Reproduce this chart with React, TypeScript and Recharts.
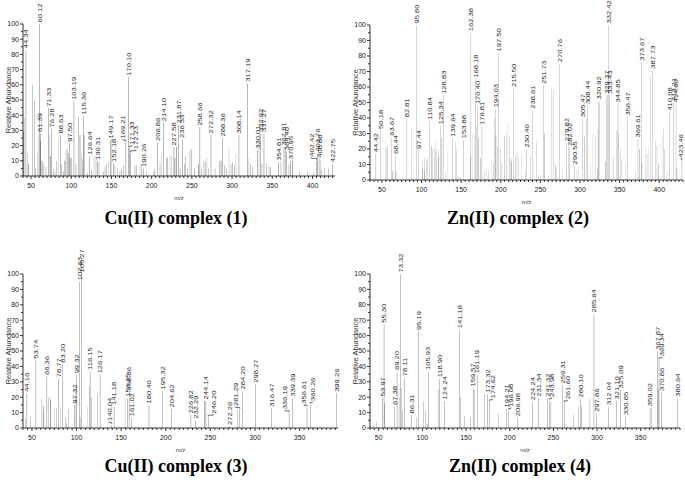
import React from 'react';
import { Bar, BarChart, LabelList, XAxis, YAxis } from 'recharts';

// [m/z, relative abundance, peak label]
type Peak = [number, number, string?];

// Cu(II) complex (1)
const cu1Labelled: Peak[] = [
  [43.7, 83, '44.34'], [60.3, 100, '60.12'], [61.39, 28, '61.39'], [71.4, 44.5, '71.33'],
  [75.9, 31, '76.28'], [86.8, 27, '88.63'], [97.5, 21.5, '97.50'], [103.4, 49, '103.19'],
  [115.2, 39.5, '115.36'], [122.5, 13, '126.64'], [132.9, 9.5, '130.31'], [148.5, 23.7, '149.17'],
  [152.3, 8.3, '152.18'], [168, 22, '169.21'], [171, 65, '170.10'], [172.3, 18, '171.33'],
  [174, 15, '172.23'], [189.8, 5, '190.26'], [207, 22, '206.86'], [214.4, 35, '214.10'],
  [227.7, 19, '227.58'], [233.2, 33.5, '231.87'], [238, 24, '236.33'], [260, 32, '258.66'],
  [273.8, 27, '272.32'], [288.4, 25, '288.36'], [308.6, 27, '308.14'], [319.6, 61, '317.19'],
  [331.9, 17, '330.01'], [335.6, 28, '332.92'], [339.7, 28, '337.27'], [357.6, 9, '354.81'],
  [364.6, 19, '362.81'], [368, 16, '364.40'], [372.9, 10, '370.95'], [405, 10, '402.42'],
  [406.5, 15, '403.76'], [409.4, 11, '408.88'], [425.1, 8, '422.75'],
];
const cu1Black: Peak[] = [
  [40.5, 29], [46.6, 8], [62, 23], [74.4, 13], [92.2, 10], [98.5, 12], [110.9, 27], [115.9, 27],
  [229, 12], [231, 19], [258, 8], [286.3, 10], [375, 10],
];
const cu1Grey: Peak[] = [
  [52, 60], [54, 50], [55.3, 5], [62.5, 10], [64.5, 10], [66, 8], [68.6, 6], [77.7, 5], [79.8, 3],
  [81.9, 10], [88, 8], [90.2, 3], [93.5, 18], [95, 17], [96.4, 15], [100.5, 12], [105.9, 8],
  [108.8, 39], [114.2, 11], [120, 2], [125.4, 4], [130.8, 13], [134.5, 9], [140, 3], [142, 6], [144, 8],
  [154.4, 7], [157.3, 5], [160.6, 3], [162.7, 5], [164.8, 7], [179.3, 7], [181.4, 7], [187.6, 8],
  [193.8, 3], [202, 3], [204, 5], [210.4, 8], [218.7, 12], [220, 12], [235.3, 5], [240.5, 8],
  [242.3, 13], [244.4, 5], [247.7, 17], [249.8, 18], [253.1, 5], [262.2, 5], [265.1, 10], [267.2, 9],
  [270.5, 5], [278.8, 5], [284.2, 10], [290.4, 7], [293.3, 5], [298.7, 8], [300.8, 9], [302.8, 7],
  [323.1, 8], [325.6, 6], [337.2, 8], [343, 8], [346, 6], [347.6, 6], [360.9, 9], [366.7, 19],
  [370.8, 8], [383.7, 3], [394, 3], [401, 2], [410.8, 4], [414.8, 5], [419.7, 5],
];
const cu1Light: Peak[] = [
  [41.5, 38], [45.5, 15], [57.8, 15], [58.8, 27], [72.8, 27], [84, 25], [113, 15], [128.3, 13],
  [146, 10], [150.3, 25], [185.5, 8], [212.5, 15], [222.8, 13], [224.9, 14], [268.8, 12], [296.2, 19],
  [304.9, 15], [321, 12], [333.5, 22], [408, 15],
];

// Zn(II) complex (2)
const zn2Labelled: Peak[] = [
  [42.4, 17, '44.42'], [47.9, 32, '50.18'], [62.6, 27.6, '63.67'], [67.7, 15.8, '68.44'],
  [81.6, 39.5, '82.81'], [94.2, 100, '95.80'], [96.3, 19, '97.44'], [109.8, 38, '110.84'],
  [123.7, 35, '125.34'], [127.9, 54.6, '128.83'], [139.2, 27, '139.64'], [153, 26, '153.88'],
  [162.4, 95, '162.38'], [167.8, 65, '168.18'], [170.8, 48, '170.40'], [176.3, 34.5, '176.81'],
  [193.1, 46, '194.03'], [197.3, 82, '197.50'], [216.2, 59, '215.50'], [232.2, 20, '230.40'],
  [240.6, 45, '238.61'], [254, 61, '251.73'], [273.9, 75, '270.76'], [282.7, 24, '279.82'],
  [287, 21, '282.02'], [293.2, 9, '290.55'], [303.7, 39.5, '305.47'], [309.6, 48, '308.44'],
  [323.5, 51, '320.92'], [333.2, 54.6, '329.37'], [336, 100, '332.42'], [337.4, 54.6, '333.43'],
  [348, 49, '344.85'], [360, 40.6, '356.47'], [373.2, 26.5, '369.61'], [377.4, 76, '373.67'],
  [392, 70.8, '387.73'], [413.2, 43.8, '410.08'], [418.2, 50, '413.21'], [421.2, 49, '414.60'],
  [428.7, 12, '423.46'],
];
const zn2Black: Peak[] = [
  [62.9, 6], [101.3, 7], [103.5, 6], [112.3, 22], [121.5, 15], [125.8, 27], [161.5, 15], [172, 27],
  [174.2, 14], [194, 29], [204.9, 28], [212.9, 14], [214, 12], [255.4, 30], [268.8, 10], [305.4, 28],
  [322.3, 7], [332, 12], [346.7, 32], [375.3, 20], [378.2, 11], [399.3, 10], [422.4, 8],
];
const zn2Grey: Peak[] = [
  [56.3, 21], [57.6, 22], [66.8, 5], [87.9, 33], [101.8, 13], [104, 14], [106, 13], [107.7, 15],
  [114.4, 20], [116.5, 20], [118.2, 24], [119.4, 18], [122, 20], [130, 5], [142.6, 24], [144.7, 20],
  [146.8, 3], [148.9, 2], [169.1, 35], [179.6, 5], [182.6, 7], [184.7, 6], [191, 11], [192.3, 40],
  [195.6, 22], [199.4, 20], [201.5, 11], [207, 30], [211.2, 28], [218.4, 16], [220.5, 18],
  [222.5, 15], [231, 6], [237.3, 16], [244.8, 25], [247.8, 3], [250.7, 3], [260.4, 3], [264.6, 59],
  [266.7, 58], [270, 8], [285.7, 22], [296.2, 6], [308, 40], [319.3, 28], [322.8, 33], [324.8, 50],
  [334.3, 55], [342.5, 15], [348.8, 30], [350.9, 20], [353, 14], [369.8, 6], [384.6, 17], [388.8, 67],
  [395, 25], [397.2, 22], [405.6, 33], [406.9, 20], [409.8, 5],
];
const zn2Light: Peak[] = [
  [54.2, 21], [64.7, 5], [68.9, 6], [90, 8], [133.3, 19], [164.9, 30], [167, 29], [188.9, 14],
  [209.1, 37], [226.7, 17], [278, 8], [298.3, 9], [313, 10], [316.4, 30], [340.4, 14], [357.2, 12],
  [382.5, 20], [386.7, 21], [403.5, 28],
];

// Cu(II) complex (3)
const cu3Labelled: Peak[] = [
  [44.4, 22.5, '44.16'], [54.5, 44, '53.74'], [66.8, 33.4, '66.36'], [79.8, 32, '78.77'],
  [84.7, 41.4, '83.20'], [97.4, 15, '97.32'], [100.3, 34.5, '99.32'], [103, 95, '102.63'],
  [105.9, 100, '105.27'], [115.2, 36.7, '116.15'], [126.4, 34.5, '126.17'], [139.5, 2, '140.04'],
  [142.1, 14, '141.18'], [157, 19.3, '156.25'], [158.9, 23.6, '158.36'], [161.9, 6.7, '161.02'],
  [181.2, 15, '180.40'], [196.5, 24, '195.32'], [206.2, 12.4, '204.62'], [228.2, 8.5, '226.82'],
  [233.4, 5, '232.29'], [245, 17.6, '244.14'], [247.6, 6.7, '246.20'], [271.8, 1, '272.26'],
  [283, 11.7, '281.29'], [286, 24, '284.20'], [300.5, 28.4, '298.27'], [318.4, 12.8, '316.47'],
  [338.2, 9.5, '336.19'], [341.9, 19.3, '339.39'], [358.3, 13.2, '356.61'], [362, 15, '360.26'],
  [391.1, 22.5, '399.26'],
];
const cu3Black: Peak[] = [[63, 14], [70.5, 18], [243.8, 17.6]];
const cu3Grey: Peak[] = [
  [42.5, 6], [48.1, 8], [61.2, 19], [68.6, 20], [77.2, 13], [87.3, 7], [89.1, 3], [91, 12],
  [104, 7], [114.5, 27], [117.1, 20], [123.8, 22], [147, 1], [184.2, 1], [188, 1], [280.4, 12],
];
const cu3Light: Peak[] = [
  [63.5, 9], [70.9, 20], [75, 13], [81.7, 14], [98.5, 25], [112.3, 14], [154.4, 20],
];

// Zn(II) complex (4)
const zn4Labelled: Peak[] = [
  [54.2, 19.7, '53.97'], [56.1, 67.4, '55.30'], [68.3, 14, '67.38'], [71, 36.7, '69.20'],
  [74.8, 100, '73.32'], [79.8, 32.7, '78.11'], [87.4, 8.5, '86.31'], [95.9, 62.7, '95.19'],
  [106.6, 36.7, '105.93'], [119.9, 31.9, '118.90'], [125.7, 17.6, '124.24'], [142.9, 63.8, '141.18'],
  [158.1, 26, '159.57'], [162.7, 34.5, '161.19'], [174.6, 22, '173.32'], [177.2, 16.7, '174.62'],
  [196.4, 12.4, '194.21'], [199, 11, '196.08'], [208.6, 6.7, '206.98'], [226.2, 17, '224.24'],
  [232.7, 19.3, '231.34'], [243, 19.3, '241.32'], [246, 17.6, '243.98'], [260.6, 28, '259.31'],
  [262.5, 16, '261.60'], [281.2, 18.9, '280.10'], [296.5, 74, '285.64'], [299.6, 9.5, '297.86'],
  [312.9, 13.9, '312.04'], [322.5, 17.6, '321.10'], [327.1, 24.7, '325.09'], [332.8, 7.4, '330.85'],
  [360.7, 13.2, '359.02'], [369.5, 49.7, '367.87'], [371, 44, '369.34'], [374, 23, '370.86'],
  [392.4, 19.3, '380.64'],
];
const zn4Black: Peak[] = [[56.8, 16], [105.4, 3], [369.9, 25]];
const zn4Grey: Peak[] = [
  [43.5, 2], [47.3, 4], [73.3, 20], [76, 26], [77.1, 11], [93.2, 7], [101.6, 17.6], [103.9, 11],
  [118, 25], [144, 20], [148.6, 8], [155.5, 7], [160, 25], [171.5, 22], [187.6, 9.5], [247.2, 17],
  [272.8, 8.5], [278.5, 13.9], [282.4, 14], [291.9, 19], [362.6, 13],
];
const zn4Light: Peak[] = [];

// sideways shift (px) of crowded peak labels, drawn with a small leader
const cu1Nudges: Record<string, number> = { '169.21': -3, '171.33': 2.6, '172.23': 5.3, '402.42': -5 };
const zn2Nudges: Record<string, number> = { '423.46': -1 };
const cu3Nudges: Record<string, number> = {
  '140.04': -2.5, '246.20': 5, '281.29': -4, '336.19': -4, '356.61': -3, '360.26': 2,
};
const zn4Nudges: Record<string, number> = {
  '174.62': 2.5, '196.08': 2, '243.98': 2, '261.60': 3, '369.34': 3,
};

const xMajorStep = 50;
const xMinorStep = 5;
const yTicks = [0, 5, 10, 15, 20, 25, 30, 35, 40, 45, 50, 55, 60, 65, 70, 75, 80, 85, 90, 95, 100];

const shades = { light: '#9c9c9c', grey: '#626262', black: '#141414', main: '#3f3f3f' };
const font = '"Liberation Sans", Arial, sans-serif';

const buildRows = (groups: Record<string, Peak[]>) => {
  const rows: any[] = [];
  Object.entries(groups).forEach(([key, peaks]) => {
    peaks.forEach(([mz, ab, label]) => {
      rows.push({ mz, light: 0, grey: 0, black: 0, main: 0, [key]: ab, label });
    });
  });
  return rows.sort((a, b) => a.mz - b.mz);
};

const minorTicks = (from: number, to: number) => {
  const out: number[] = [];
  for (let v = Math.ceil(from / xMinorStep) * xMinorStep; v <= to; v += xMinorStep) out.push(v);
  return out;
};

const XTick = (props: any) => {
  const { x, y, payload } = props;
  const major = payload.value % xMajorStep === 0;
  return (
    <g>
      <line x1={x} x2={x} y1={y} y2={y + (major ? 3 : 2)} stroke="#333" />
      {major && (
        <text x={x} y={y + 12} textAnchor="middle" fontSize={7} fontFamily={font} fill="#222">
          {payload.value}
        </text>
      )}
    </g>
  );
};

const YTick = (props: any) => {
  const { x, y, payload } = props;
  const major = payload.value % 10 === 0;
  return (
    <g>
      <line x1={x - (major ? 3 : 2)} x2={x} y1={y} y2={y} stroke="#333" />
      {major && (
        <text x={x - 4} y={y} dy="0.35em" textAnchor="end" fontSize={7} fontFamily={font} fill="#222">
          {payload.value}
        </text>
      )}
    </g>
  );
};

const PeakLabel = (props: any) => {
  const { x, y, width, value, nudges } = props;
  if (!value) return null;
  const shift = (nudges && nudges[value]) || 0;
  const bx = Number(x) + Number(width) / 2;
  const top = Number(y);
  const lx = bx + shift;
  const cx = lx + 2.3;
  const cy = top - (shift ? 4 : 1.5);
  return (
    <g>
      {shift !== 0 && (
        <polyline
          points={`${bx},${top - 1} ${bx},${top - 2.5} ${lx},${top - 2.5} ${lx},${top - 3.5}`}
          fill="none"
          stroke="#333"
          strokeWidth={0.7}
        />
      )}
      <text
        transform={`translate(${cx} ${cy}) rotate(-90) scale(1 0.8)`}
        fontSize={7.6}
        fontFamily={font}
        fill="#1a1a1a"
      >
        {value}
      </text>
    </g>
  );
};

type PanelProps = {
  title: string;
  rows: any[];
  nudges: Record<string, number>;
  domain: [number, number];
  left: number;
  top: number;
  width: number;
  height: number;
  marginTop: number;
  marginRight: number;
  titleX: number;
  titleY: number;
};

const Spectrum: React.FC<PanelProps> = (p) => (
  <>
    <div style={{ position: 'absolute', left: p.left, top: p.top }}>
      <BarChart
        width={p.width}
        height={p.height}
        data={p.rows}
        barSize={1.5}
        margin={{ top: p.marginTop, right: p.marginRight, left: 0, bottom: 0 }}
      >
        <XAxis
          type="number"
          dataKey="mz"
          domain={p.domain}
          allowDataOverflow
          ticks={minorTicks(p.domain[0], p.domain[1])}
          interval={0}
          tickLine={false}
          tickSize={0}
          tickMargin={0}
          tick={<XTick />}
          axisLine={{ stroke: '#333' }}
          height={24}
          label={{ value: 'm/z', position: 'insideBottom', offset: 0, fontSize: 6, fill: '#333', fontFamily: font }}
        />
        <YAxis
          type="number"
          domain={[0, 100]}
          allowDataOverflow
          ticks={yTicks}
          interval={0}
          width={23}
          tickLine={false}
          tickSize={0}
          tickMargin={0}
          tick={<YTick />}
          axisLine={{ stroke: '#333' }}
          label={{
            value: 'Relative Abundance',
            angle: -90,
            position: 'insideLeft',
            offset: 8,
            style: { textAnchor: 'middle', fontSize: 7.5, fill: '#333', fontFamily: font },
          }}
        />
        <Bar dataKey="light" stackId="s" fill={shades.light} isAnimationActive={false} />
        <Bar dataKey="grey" stackId="s" fill={shades.grey} isAnimationActive={false} />
        <Bar dataKey="black" stackId="s" fill={shades.black} isAnimationActive={false} />
        <Bar dataKey="main" stackId="s" fill={shades.main} isAnimationActive={false}>
          <LabelList dataKey="label" content={(lp: any) => <PeakLabel {...lp} nudges={p.nudges} />} />
        </Bar>
      </BarChart>
    </div>
    <div
      style={{
        position: 'absolute',
        left: p.titleX - 150,
        top: p.titleY,
        width: 300,
        textAlign: 'center',
        fontFamily: '"Liberation Serif", "Times New Roman", serif',
        fontWeight: 'bold',
        fontSize: 18,
        lineHeight: '20px',
        color: '#000',
      }}
    >
      {p.title}
    </div>
  </>
);

export default function App() {
  return (
    <div style={{ position: 'absolute', left: 0, top: 0, width: 685, height: 483, background: '#fff' }}>
      <Spectrum
        title="Cu(II) complex (1)"
        rows={buildRows({ light: cu1Light, grey: cu1Grey, black: cu1Black, main: cu1Labelled })}
        nudges={cu1Nudges}
        domain={[40, 428]}
        left={0} top={0} width={345} height={200} marginTop={24} marginRight={10}
        titleX={176} titleY={208}
      />
      <Spectrum
        title="Zn(II) complex (2)"
        rows={buildRows({ light: zn2Light, grey: zn2Grey, black: zn2Black, main: zn2Labelled })}
        nudges={zn2Nudges}
        domain={[35, 430]}
        left={347} top={0} width={338} height={204} marginTop={25} marginRight={2}
        titleX={518} titleY={208}
      />
      <Spectrum
        title="Cu(II) complex (3)"
        rows={buildRows({ light: cu3Light, grey: cu3Grey, black: cu3Black, main: cu3Labelled })}
        nudges={cu3Nudges}
        domain={[40, 393]}
        left={0} top={230} width={348} height={222} marginTop={44} marginRight={10}
        titleX={176} titleY={456}
      />
      <Spectrum
        title="Zn(II) complex (4)"
        rows={buildRows({ light: zn4Light, grey: zn4Grey, black: zn4Black, main: zn4Labelled })}
        nudges={zn4Nudges}
        domain={[40, 395]}
        left={347} top={230} width={338} height={222} marginTop={44} marginRight={5}
        titleX={520} titleY={456}
      />
    </div>
  );
}
